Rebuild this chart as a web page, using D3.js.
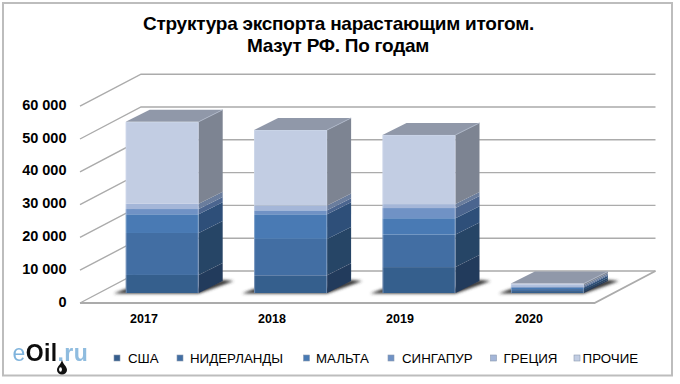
<!DOCTYPE html>
<html>
<head>
<meta charset="utf-8">
<script src="https://cdn.jsdelivr.net/npm/d3@7/dist/d3.min.js"></script>
<style>
  html, body { margin: 0; padding: 0; background: #fff; }
  text { font-family: "Liberation Sans", Arial, sans-serif; }
</style>
</head>
<body>
<svg id="chart" width="680" height="384"></svg>
<script>
const years = ['2017', '2018', '2019', '2020'];
const countries = ['США', 'НИДЕРЛАНДЫ', 'МАЛЬТА', 'СИНГАПУР', 'ГРЕЦИЯ', 'ПРОЧИЕ'];

// tonnes per year
const usa = [5500, 5400, 7900, 400];
const netherlands = [12800, 11100, 9900, 600];
const malta = [5700, 7500, 5000, 600];
const singapore = [1600, 1200, 3100, 300];
const greece = [1600, 1500, 1200, 500];
const others = [25000, 23000, 21100, 500];

const yTicks = [0, 10000, 20000, 30000, 40000, 50000, 60000];

const frontColors = ['#365e8d', '#426ea3', '#487ab4', '#7092c5', '#a4b6d8', '#c2cde3'];
const sideColors = ['#243a5b', '#284566', '#2d4f79', '#4b658f', '#6b7d9d', '#7d8492'];

const seriesValues = [usa, netherlands, malta, singapore, greece, others];

const svg = d3.select('#chart');
const defs = svg.append('defs');
defs.append('filter').attr('id', 'soft').attr('x', '-20%').attr('y', '-20%').attr('width', '140%').attr('height', '140%')
  .append('feGaussianBlur').attr('stdDeviation', 0.45);
defs.append('filter').attr('id', 'shadow').attr('x', '-30%').attr('y', '-60%').attr('width', '160%').attr('height', '220%')
  .append('feGaussianBlur').attr('stdDeviation', 1.5);

svg.append('rect')
  .attr('x', 3).attr('y', 3).attr('width', 669).attr('height', 372.5)
  .attr('fill', '#fff').attr('stroke', '#bdbdbd').attr('stroke-width', 2);

// chart box: front plane of the floor, wall pushed back by depth
const depthX = 61;
const depthY = -32;
const barDepthX = 24;
const barDepthY = -12;
const front = { left: 80, right: 594.5 };
const y = d3.scaleLinear().domain([0, 60000]).range([303, 106.2]);
const barBase = 293;
const barY = v => barBase - (y(0) - y(v));

const x = d3.scaleBand().domain(years).range([98, 611.6]).paddingInner(0.4315).paddingOuter(0.2158);

const stack = d3.stack().keys(d3.range(countries.length)).value((d, k) => seriesValues[k][d]);
const layers = stack(d3.range(years.length));

const line = d3.line();
const gridColor = '#ababab';

// wall lines and floor
const grid = svg.append('g').attr('fill', 'none').attr('stroke', gridColor).attr('stroke-width', 1.4).attr('filter', 'url(#soft)');
yTicks.forEach(t => {
  grid.append('path').attr('d', line([
    [front.left, y(t)],
    [front.left + depthX, y(t) + depthY],
    [front.right + depthX, y(t) + depthY]
  ]));
});
grid.append('path').attr('stroke-width', 1.8).attr('d', line([
  [front.left, y(0)],
  [front.right, y(0)],
  [front.right + depthX, y(0) + depthY]
]));

// floor shadows go under all the bars
const shadows = svg.append('g');
const bars = svg.append('g').attr('filter', 'url(#soft)');
years.forEach((year, i) => {
  const x0 = x(year);
  const x1 = x0 + x.bandwidth();

  shadows.append('path')
    .attr('d', line([
      [x0 - 12, barBase + 0.5],
      [x1, barBase + 0.5],
      [x1 + barDepthX + 11, barBase + barDepthY],
      [x1 + barDepthX, barBase + barDepthY - 1],
      [x1, barBase - 5],
      [x0, barBase - 4]
    ]) + 'Z')
    .attr('fill', '#333').attr('filter', 'url(#shadow)');

  layers.forEach((layer, k) => {
    const yBottom = barY(layer[i][0]);
    const yTop = barY(layer[i][1]);
    bars.append('rect')
      .attr('x', x0).attr('y', yTop)
      .attr('width', x.bandwidth()).attr('height', yBottom - yTop)
      .attr('fill', frontColors[k]);
    bars.append('path')
      .attr('d', line([
        [x1, yBottom],
        [x1 + barDepthX, yBottom + barDepthY],
        [x1 + barDepthX, yTop + barDepthY],
        [x1, yTop]
      ]) + 'Z')
      .attr('fill', sideColors[k]);
  });

  const top = barY(layers[layers.length - 1][i][1]);
  bars.append('path')
    .attr('d', line([
      [x0, top],
      [x0 + barDepthX, top + barDepthY],
      [x1 + barDepthX, top + barDepthY],
      [x1, top]
    ]) + 'Z')
    .attr('fill', '#9098a9');

  // pale rim round the front face
  bars.append('path')
    .attr('d', line([[x0 + 0.5, barBase], [x0 + 0.5, top + 0.5], [x1 - 0.5, top + 0.5], [x1 - 0.5, barBase]]))
    .attr('fill', 'none').attr('stroke', '#dbe3f1').attr('stroke-opacity', 0.35).attr('stroke-width', 1);
  bars.append('path')
    .attr('d', line([[x1, top], [x1 + barDepthX, top + barDepthY]]))
    .attr('fill', 'none').attr('stroke', '#aab3c4').attr('stroke-width', 1);
});

// y labels
const fmt = d => d === 0 ? '0' : d3.format(',')(d).replace(',', ' ');
svg.append('g').selectAll('text').data(yTicks).join('text')
  .attr('x', 66.5).attr('y', d => y(d) + 3.5)
  .attr('text-anchor', 'end')
  .attr('font-size', 14.5).attr('font-weight', 700).attr('fill', '#000')
  .text(fmt);

// x labels
const xLabelPos = [144, 272, 400, 529];
svg.append('g').selectAll('text').data(years).join('text')
  .attr('x', (d, i) => xLabelPos[i]).attr('y', 323)
  .attr('text-anchor', 'middle')
  .attr('font-size', 12.5).attr('font-weight', 700).attr('fill', '#000')
  .text(d => d);

// title
const title = svg.append('g').attr('text-anchor', 'middle')
  .attr('font-size', 19).attr('font-weight', 700).attr('fill', '#000').attr('letter-spacing', -0.25);
title.append('text').attr('x', 338.5).attr('y', 30).text('Структура экспорта нарастающим итогом.');
title.append('text').attr('x', 338).attr('y', 51.7).text('Мазут РФ. По годам');

// legend
const legendSwatchX = [117, 180, 306.5, 391, 493.5, 577];
const legendTextX = [128, 190, 316, 402, 503.5, 582.6];
const legend = svg.append('g');
countries.forEach((name, k) => {
  legend.append('rect')
    .attr('x', legendSwatchX[k] - 3).attr('y', 355).attr('width', 6).attr('height', 6)
    .attr('fill', frontColors[k]).attr('stroke', '#8a99b0').attr('stroke-width', 0.6);
  legend.append('text')
    .attr('x', legendTextX[k]).attr('y', 363)
    .attr('font-size', 13.3).attr('fill', '#000')
    .text(name);
});

// logo
const logo = svg.append('text').attr('x', 12.5).attr('y', 361).attr('font-size', 23).attr('letter-spacing', 0.4).attr('filter', 'url(#soft)');
logo.append('tspan').attr('fill', '#7fb3dc').text('e');
logo.append('tspan').attr('fill', '#111').attr('font-weight', 700).text('Oil');
logo.append('tspan').attr('fill', '#8fbcdf').attr('font-weight', 700).text('.ru');
svg.append('path')
  .attr('d', 'M62 360 C60.5 365 57 366.5 57 370 A5 4.5 0 0 0 67 370 C67 366.5 63.5 365 62 360 Z')
  .attr('fill', '#111');
svg.append('ellipse').attr('cx', 60.5).attr('cy', 369.5).attr('rx', 1.4).attr('ry', 2.2).attr('fill', '#fff');
</script>
</body>
</html>
